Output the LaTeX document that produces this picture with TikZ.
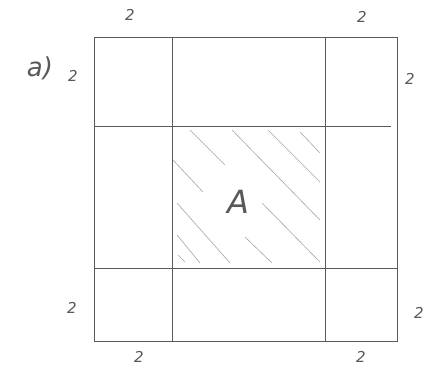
\documentclass[tikz,border=0pt]{standalone}
\usepackage{fontspec}
\setmainfont{DejaVu Sans}
\begin{document}
\begin{tikzpicture}[x=1pt,y=-1pt,
  gridline/.style={draw=black!65, line width=0.9pt},
  hatchline/.style={draw=black!35, line width=0.6pt},
  lbl/.style={text=black!65, font=\fontsize{15}{15}\selectfont\itshape, inner sep=0pt}]
\useasboundingbox[fill=white] (0,0) rectangle (424,367);
% outer square
\draw[gridline] (94,37) rectangle (397,341);
% inner lines
\draw[gridline] (172,37) -- (172,341);
\draw[gridline] (325,37) -- (325,341);
\draw[gridline] (94,126) -- (391,126);
\draw[gridline] (94,268) -- (397,268);
% hatching of A
\draw[hatchline] (190,130) -- (225,165);
\draw[hatchline] (232,130) -- (320,220);
\draw[hatchline] (268,130) -- (320,182);
\draw[hatchline] (300,132) -- (320,153);
\draw[hatchline] (173,160) -- (203,192);
\draw[hatchline] (177,203) -- (230,263);
\draw[hatchline] (177,235) -- (200,263);
\draw[hatchline] (178,255) -- (185,262);
\draw[hatchline] (245,237) -- (272,263);
\draw[hatchline] (262,203) -- (320,262);
% labels
\node[lbl, font=\fontsize{26}{26}\selectfont\itshape] (a) at (40,68) {a)};
\node[lbl, font=\fontsize{32}{32}\selectfont\itshape] (A) at (238,202) {A};
\node[lbl] (t1) at (130,15) {2};
\node[lbl] (t2) at (362,17) {2};
\node[lbl] (l1) at (73,76) {2};
\node[lbl] (r1) at (410,79) {2};
\node[lbl] (l2) at (72,308) {2};
\node[lbl] (r2) at (419,313) {2};
\node[lbl] (b1) at (139,357) {2};
\node[lbl] (b2) at (361,357) {2};
\end{tikzpicture}
\end{document}
